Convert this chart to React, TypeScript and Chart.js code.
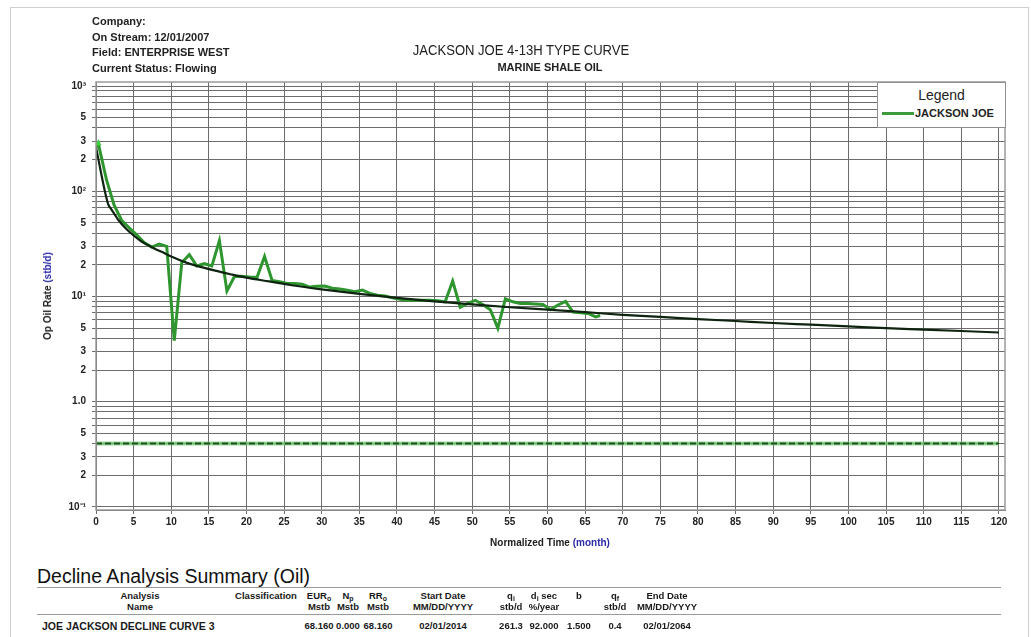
import React, { useEffect, useRef } from "react";
import { Chart, registerables } from "chart.js";

Chart.register(...registerables);

// ---------- data ----------
const curveMonths = [0, 1.6, 2, 2.5, 3, 4, 5, 6, 7, 8, 9, 10, 12, 14, 16, 18, 20, 23, 26, 30, 35, 40, 45, 50, 55, 60, 65, 70, 75, 80, 85, 90, 95, 100, 105, 110, 115, 120];
const curveRates = [261, 76, 68, 60, 53, 44, 38, 33.5, 30.5, 28, 26, 24, 21, 19, 17.5, 16.2, 15.1, 13.9, 12.8, 11.7, 10.6, 9.7, 9.0, 8.4, 7.9, 7.5, 7.1, 6.7, 6.4, 6.1, 5.85, 5.6, 5.4, 5.2, 5.0, 4.85, 4.7, 4.55];

const prodMonths = [0, 0.3, 1.4, 2.4, 3.4, 4.4, 5.4, 6.4, 7.4, 8.4, 9.4, 10.4, 11.4, 12.4, 13.4, 14.4, 15.4, 16.4, 17.4, 18.4, 19.4, 20.4, 21.4, 22.4, 23.4, 24.4, 25.4, 26.4, 27.4, 28.4, 29.4, 30.4, 31.4, 32.4, 33.4, 34.4, 35.4, 36.4, 37.4, 38.4, 39.4, 40.4, 41.4, 42.4, 43.4, 44.4, 45.4, 46.4, 47.4, 48.4, 49.4, 50.4, 51.4, 52.4, 53.4, 54.4, 55.4, 56.4, 57.4, 58.4, 59.4, 60.4, 61.4, 62.4, 63.4, 64.4, 65.4, 66.4, 67.0];
const prodRates = [262, 285, 128, 74, 53, 45, 38.5, 32.5, 29.5, 31.5, 30, 3.8, 21, 25, 19.5, 20.5, 19.5, 34, 11.3, 15.5, 15.6, 15.3, 15.2, 24, 14.2, 13.8, 13.3, 13.3, 13.1, 12.3, 12.5, 12.6, 12.0, 11.8, 11.5, 11.1, 11.5, 10.7, 10.3, 10.1, 9.7, 9.4, 9.2, 9.2, 9.2, 9.2, 9.1, 8.9, 14, 7.9, 8.6, 9.2, 8.4, 7.5, 5.0, 9.5, 8.9, 8.6, 8.6, 8.5, 8.4, 7.5, 8.3, 9.0, 7.1, 7.0, 6.9, 6.4, 6.6];

const qfMonths = [0, 120];
const qfRates = [0.4, 0.4];

const xTickValues = [0, 5, 10, 15, 20, 25, 30, 35, 40, 45, 50, 55, 60, 65, 70, 75, 80, 85, 90, 95, 100, 105, 110, 115, 120];
const yTickValues = [0.1, 0.2, 0.3, 0.4, 0.5, 0.6, 0.7, 0.8, 0.9, 1, 2, 3, 4, 5, 6, 7, 8, 9, 10, 20, 30, 40, 50, 60, 70, 80, 90, 100, 200, 300, 400, 500, 600, 700, 800, 900, 1000];
const yTickLabels = ["10\u207B\u00B9", "2", "3", "", "5", "", "", "", "", "1.0", "2", "3", "", "5", "", "", "", "", "10\u00B9", "2", "3", "", "5", "", "", "", "", "10\u00B2", "2", "3", "", "5", "", "", "", "", "10\u00B3"];

const headerLines = ["Company:", "On Stream: 12/01/2007", "Field: ENTERPRISE WEST", "Current Status: Flowing"];
const chartTitle = "JACKSON JOE 4-13H TYPE CURVE";
const chartSubtitle = "MARINE SHALE OIL";
const seriesName = "JACKSON JOE";

const tableTitle = "Decline Analysis Summary (Oil)";
const rowName = "JOE JACKSON DECLINE CURVE 3";
const rowValues = ["68.160", "0.000", "68.160", "02/01/2014", "261.3", "92.000", "1.500", "0.4", "02/01/2064"];

const FONT = '"Liberation Sans", Arial, Helvetica, sans-serif';
const BLUE = "#2b2ba6";

const framePlugin = {
  id: "frame",
  afterDraw(chart: any) {
    const { ctx, chartArea: a } = chart;
    ctx.save();
    ctx.strokeStyle = "#9b9b9b";
    ctx.lineWidth = 1.5;
    ctx.strokeRect(a.left, a.top, a.right - a.left, a.bottom - a.top);
    ctx.restore();
  },
};

function ChartCanvas() {
  const ref = useRef<HTMLCanvasElement | null>(null);
  useEffect(() => {
    if (!ref.current) return;
    const tickFont = { family: FONT, size: 10, weight: "bold" as const };
    const chart = new Chart(ref.current, {
      type: "line",
      data: {
        datasets: [
          {
            label: "Decline Curve",
            data: curveMonths.map((m, i) => ({ x: m, y: curveRates[i] })),
            borderColor: "#0f2410",
            borderWidth: 2.2,
            pointRadius: 0,
            cubicInterpolationMode: "monotone",
            fill: false,
          },
          {
            label: seriesName,
            data: prodMonths.map((m, i) => ({ x: m, y: prodRates[i] })),
            borderColor: "#2f962f",
            backgroundColor: "#3fcf3f",
            borderWidth: 3,
            pointRadius: (c: any) => (c.dataIndex === 1 ? 4 : 0),
            pointStyle: "triangle",
            pointBorderWidth: 0,
            tension: 0,
            fill: false,
          },
          {
            label: "qf dash",
            data: qfMonths.map((m, i) => ({ x: m, y: qfRates[i] })),
            borderColor: "#1e4d1e",
            borderWidth: 2,
            borderDash: [6, 3],
            pointRadius: 0,
            fill: false,
          },
          {
            label: "qf glow",
            data: qfMonths.map((m, i) => ({ x: m, y: qfRates[i] })),
            borderColor: "rgba(110,200,110,0.75)",
            borderWidth: 4,
            pointRadius: 0,
            fill: false,
          },
        ],
      },
      options: {
        animation: false,
        responsive: false,
        devicePixelRatio: 1,
        layout: { padding: { top: 82, right: 26, left: 0, bottom: 0 } },
        plugins: { legend: { display: false }, tooltip: { enabled: false }, title: { display: false } },
        scales: {
          x: {
            type: "linear",
            min: 0,
            max: 120.8,
            afterBuildTicks: (s: any) => {
              s.ticks = xTickValues.map((v) => ({ value: v }));
            },
            afterFit: (s: any) => {
              s.height = 50;
            },
            ticks: {
              font: tickFont,
              color: "#222",
              padding: 2,
              maxRotation: 0,
              autoSkip: false,
              callback: (v: any) => String(v),
            },
            grid: { color: "#6c6c6c", lineWidth: 1, tickLength: 4, drawTicks: true },
            border: { color: "#555", width: 1 },
          },
          y: {
            type: "logarithmic",
            min: 0.0936,
            max: 1092,
            afterBuildTicks: (s: any) => {
              s.ticks = yTickValues.map((v) => ({ value: v }));
            },
            afterFit: (s: any) => {
              s.width = 96;
            },
            ticks: {
              font: tickFont,
              color: "#222",
              padding: 6,
              autoSkip: false,
              callback: function (_v: any, i: number) {
                return yTickLabels[i];
              },
            },
            grid: { color: "#6c6c6c", lineWidth: 1, tickLength: 4 },
            border: { color: "#555", width: 1 },
          },
        },
      },
      plugins: [framePlugin],
    } as any);
    return () => chart.destroy();
  }, []);
  return <canvas ref={ref} width={1031} height={560} style={{ position: "absolute", left: 0, top: 0, width: 1031, height: 560 }} />;
}

const abs = (o: React.CSSProperties): React.CSSProperties => ({ position: "absolute", whiteSpace: "nowrap", ...o });

function Cell({ x, y, children, size = 9.5 }: { x: number; y: number; children: React.ReactNode; size?: number }) {
  return (
    <div style={abs({ left: x, top: y, transform: "translate(-50%, -50%)", fontSize: size, fontWeight: "bold", color: "#1a1a1a", lineHeight: 1 })}>
      {children}
    </div>
  );
}

const sub = (t: string) => <span style={{ fontSize: 7, verticalAlign: "-2px" }}>{t}</span>;

export default function App() {
  const h1 = 596;
  const h2 = 607;
  const dr = 626;
  const cols = { ana: 140, cls: 266, eur: 319, np: 348, rr: 378, start: 443, qi: 511, di: 544, b: 579, qf: 615, end: 667 };
  return (
    <div style={{ position: "absolute", left: 0, top: 0, width: 1031, height: 637, background: "#fff", fontFamily: FONT, overflow: "hidden" }}>
      <div style={abs({ left: 10, top: 7, width: 1017, height: 660, border: "1px solid #cfcfcf" })} />
      <ChartCanvas />
      {headerLines.map((t, i) => (
        <div key={t} style={abs({ left: 92, top: 14 + i * 15.5, fontSize: 11, fontWeight: "bold", color: "#222", lineHeight: "14px" })}>
          {t}
        </div>
      ))}
      <div style={abs({ left: 521, top: 50, transform: "translate(-50%, -50%) scaleX(0.9)", fontSize: 14.5, color: "#222", lineHeight: 1 })}>{chartTitle}</div>
      <div style={abs({ left: 550, top: 67, transform: "translate(-50%, -50%)", fontSize: 11, fontWeight: "bold", color: "#222", lineHeight: 1 })}>{chartSubtitle}</div>

      {/* legend */}
      <div style={abs({ left: 877, top: 82, width: 127, height: 44, border: "1px solid #8f8f8f", background: "#fff" })}>
        <div style={abs({ left: 0, width: 127, top: 5, textAlign: "center", fontSize: 14, color: "#222", lineHeight: "15px" })}>Legend</div>
        <div style={abs({ left: 4, top: 29, width: 32, height: 3, background: "#3d9a3d" })} />
        <div style={abs({ left: 37, top: 24, fontSize: 11, fontWeight: "bold", color: "#222", lineHeight: "12px" })}>{seriesName}</div>
      </div>

      {/* axis titles */}
      <div style={abs({ left: 48, top: 296, transform: "translate(-50%, -50%) rotate(-90deg)", fontSize: 10, fontWeight: "bold", color: "#222", lineHeight: 1 })}>
        Op Oil Rate <span style={{ color: BLUE }}>(stb/d)</span>
      </div>
      <div style={abs({ left: 550, top: 543, transform: "translate(-50%, -50%)", fontSize: 10, fontWeight: "bold", color: "#222", lineHeight: 1 })}>
        Normalized Time <span style={{ color: BLUE }}>(month)</span>
      </div>

      {/* summary table */}
      <div style={abs({ left: 37, top: 565, fontSize: 19.5, color: "#111", lineHeight: "22px" })}>{tableTitle}</div>
      <div style={abs({ left: 37, top: 587, width: 964, height: 0, borderTop: "1px solid #9a9a9a" })} />
      <div style={abs({ left: 37, top: 614, width: 964, height: 0, borderTop: "1px solid #9a9a9a" })} />

      <Cell x={cols.ana} y={h1}>Analysis</Cell>
      <Cell x={cols.ana} y={h2}>Name</Cell>
      <Cell x={cols.cls} y={h1}>Classification</Cell>
      <Cell x={cols.eur} y={h1}>EUR{sub("o")}</Cell>
      <Cell x={cols.eur} y={h2}>Mstb</Cell>
      <Cell x={cols.np} y={h1}>N{sub("p")}</Cell>
      <Cell x={cols.np} y={h2}>Mstb</Cell>
      <Cell x={cols.rr} y={h1}>RR{sub("o")}</Cell>
      <Cell x={cols.rr} y={h2}>Mstb</Cell>
      <Cell x={cols.start} y={h1}>Start Date</Cell>
      <Cell x={cols.start} y={h2}>MM/DD/YYYY</Cell>
      <Cell x={cols.qi} y={h1}>q{sub("i")}</Cell>
      <Cell x={cols.qi} y={h2}>stb/d</Cell>
      <Cell x={cols.di} y={h1}>d{sub("i")} sec</Cell>
      <Cell x={cols.di} y={h2}>%/year</Cell>
      <Cell x={cols.b} y={h1}>b</Cell>
      <Cell x={cols.qf} y={h1}>q{sub("f")}</Cell>
      <Cell x={cols.qf} y={h2}>stb/d</Cell>
      <Cell x={cols.end} y={h1}>End Date</Cell>
      <Cell x={cols.end} y={h2}>MM/DD/YYYY</Cell>

      <div style={abs({ left: 42, top: dr, transform: "translateY(-50%)", fontSize: 10.5, fontWeight: "bold", color: "#1a1a1a", lineHeight: 1 })}>{rowName}</div>
      {[cols.eur, cols.np, cols.rr, cols.start, cols.qi, cols.di, cols.b, cols.qf, cols.end].map((x, i) => (
        <Cell key={i} x={x} y={dr}>
          {rowValues[i]}
        </Cell>
      ))}
    </div>
  );
}
